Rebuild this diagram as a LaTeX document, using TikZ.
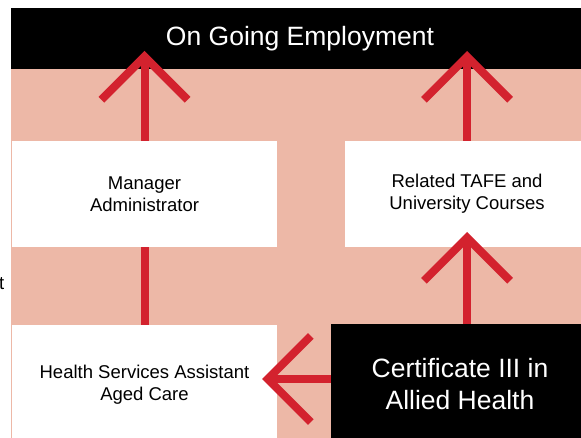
\documentclass[tikz,border=0pt]{standalone}
\usepackage{fontspec}
\setmainfont{Liberation Sans}
\usetikzlibrary{arrows.meta}
\definecolor{salmon}{HTML}{EDB8A7}
\definecolor{arred}{HTML}{D3222E}
\begin{document}
\begin{tikzpicture}[x=1pt,y=-1pt,
  box/.style 2 args={rectangle, inner sep=0pt, outer sep=0pt, draw=none,
    minimum width=#1, minimum height=#2, align=center},
  wbox/.style={fill=white, text=black, font=\fontsize{18.5}{22}\selectfont},
  bbox/.style={fill=black, text=white, font=\fontsize{26.5}{32}\selectfont},
  arr/.style={draw=arred, line width=8pt, line cap=butt,
    -{Straight Barb[angle=90:61pt, sharp]}},
  conn/.style={draw=arred, line width=8pt, line cap=butt}]
\useasboundingbox (0,0) rectangle (581,438);
\clip (0,0) rectangle (581,438);
% background band
\fill[salmon] (11,69) rectangle (589,444);
% nodes
\node[box={578}{61}, bbox] (title) at (300,38.5) {On Going Employment};
\node[box={265}{106}, wbox] (mgr) at (144.5,194) {Manager\\Administrator};
\node[box={244}{106}, wbox] (rel) at (467,194) {Related TAFE and\\University Courses};
\node[box={265}{119}, wbox] (health) at (144.5,384.5) {Health Services Assistant\\Aged Care};
\node[box={258}{120}, bbox] (cert) at (460,384) {Certificate III in\\Allied Health};
\node[anchor=base east, inner sep=0pt, font=\fontsize{18.5}{22}\selectfont] (frag) at (4.5,290) {t};
% connectors
\draw[arr, shorten >=-18pt] (mgr.north) -- (mgr.north |- title.south);
\draw[arr, shorten >=-18pt] (rel.north) -- (rel.north |- title.south);
\draw[conn] (health.north) -- (mgr.south);
\draw[arr, shorten >=-15pt] (cert.north -| rel.south) -- (rel.south);
\draw[arr, shorten >=-15pt] ([yshift=5pt]cert.west) -- ([yshift=5pt]cert.west -| health.east);
\end{tikzpicture}
\end{document}
